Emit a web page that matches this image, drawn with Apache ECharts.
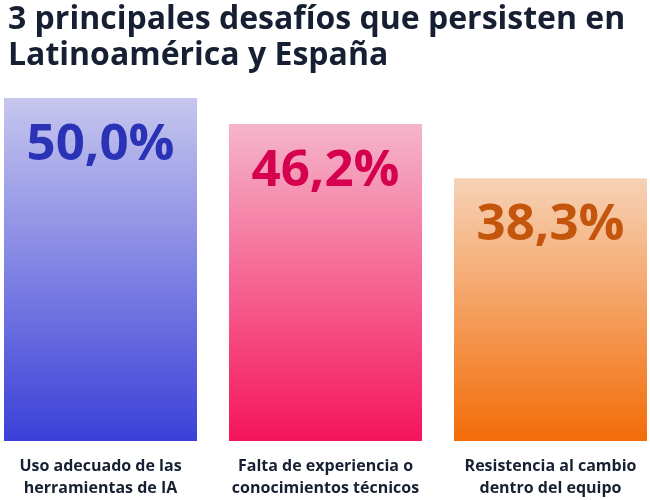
<!DOCTYPE html>
<html><head><meta charset="utf-8">
<script src="https://cdn.jsdelivr.net/npm/echarts@6/dist/echarts.min.js"></script>
<style>html,body{margin:0;padding:0;background:#fff}#c{width:650px;height:500px}</style>
</head><body><div id="c"></div>
<script>
const categories = ['Uso adecuado de las\nherramientas de IA', 'Falta de experiencia o\nconocimientos técnicos', 'Resistencia al cambio\ndentro del equipo'];
const values = [50.0, 46.2, 38.3];
const topColors = ['#c6c6ee', '#f5b5ca', '#f6d2b6'];
const bottomColors = ['#3a40d8', '#f5145c', '#f36c08'];
const labelColors = ['#2a33b6', '#d5004e', '#c4550c'];
const titleText = '3 principales desafíos que persisten en\nLatinoamérica y España';

const chart = echarts.init(document.getElementById('c'));
chart.setOption({
  backgroundColor: '#ffffff',
  animation: false,
  title: {
    text: titleText, left: 3, top: -3,
    textStyle: {fontFamily: 'Open Sans', fontWeight: 'bold', fontSize: 32, color: '#172033', lineHeight: 36}
  },
  grid: {left: -12, right: -13, top: 98, bottom: 59, containLabel: false, outerBoundsMode: 'none'},
  xAxis: {
    type: 'category', data: categories,
    axisLine: {show: false}, axisTick: {show: false},
    axisLabel: {interval: 0, margin: 14, fontFamily: 'Open Sans', fontWeight: 'bold', fontSize: 16, color: '#172033', lineHeight: 22}
  },
  yAxis: {type: 'value', min: 0, max: 50, show: false, splitLine: {show: false}},
  series: [{
    type: 'bar', barWidth: 193,
    data: values.map((v, i) => ({
      value: v,
      itemStyle: {color: new echarts.graphic.LinearGradient(0, 0, 0, 1, [
        {offset: 0, color: topColors[i]}, {offset: 1, color: bottomColors[i]}])},
      label: {color: labelColors[i]}
    })),
    label: {
      show: true, position: 'insideTop', distance: 22,
      fontFamily: 'Open Sans', fontWeight: 'bold', fontSize: 51,
      formatter: p => p.value.toFixed(1).replace('.', ',') + '%'
    }
  }]
});
</script></body></html>
